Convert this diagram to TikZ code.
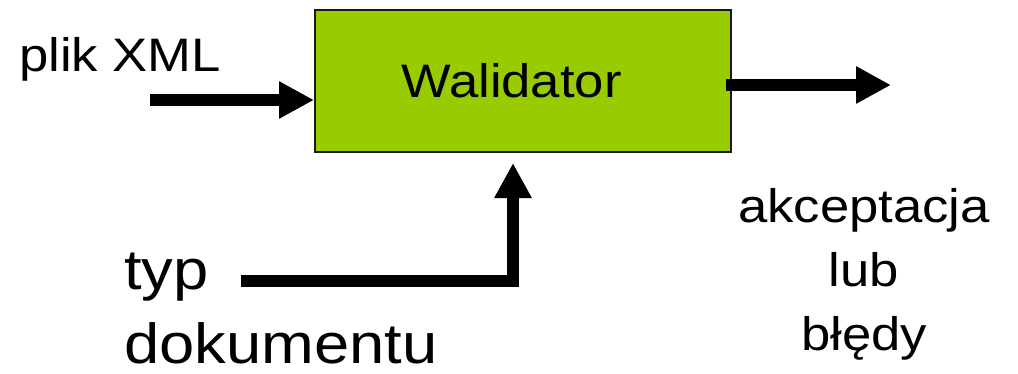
\documentclass[tikz,border=0pt]{standalone}
\usepackage{fontspec}
\setmainfont{Liberation Sans}[FakeStretch=1.12]
\usetikzlibrary{arrows.meta}
\definecolor{walgreen}{RGB}{153,204,0}

\begin{document}
\begin{tikzpicture}[x=1pt,y=1pt,
  pil/.style={line width=12pt,-{Triangle[length=35pt,width=35pt]}},
  big/.style={font=\fontsize{47}{64}\selectfont},
  huge/.style={font=\fontsize{56.5}{73.5}\selectfont}]
\useasboundingbox (0,0) rectangle (1018,373);

\node[draw=black!90, line width=2pt, fill=walgreen, minimum width=416pt,
  minimum height=142pt, inner sep=0pt] (wal) at (523,292) {};
\node[big, anchor=base, inner sep=0pt] (walt) at (511.5,276) {Walidator};

\coordinate (xmlin) at (150,273);
\coordinate (out) at (891,288);
\coordinate (typ) at (241,92);

\draw[pil] (xmlin) -- (wal.west |- xmlin);
\draw[pil] ([xshift=-6pt]wal.east |- out) -- (out);
\draw[pil, line join=miter] (typ) -| ([xshift=-10pt,yshift=-10pt]wal.south);

\node[big, anchor=base west, inner sep=0pt] (xml) at (19,301) {plik XML};
\node[huge, anchor=base west, align=left, inner sep=0pt] (typd) at (124,10) {typ\\dokumentu};
\node[big, anchor=base, align=center, inner sep=0pt] (wynik) at (864,23) {akceptacja\\lub\\błędy};

\end{tikzpicture}
\end{document}
